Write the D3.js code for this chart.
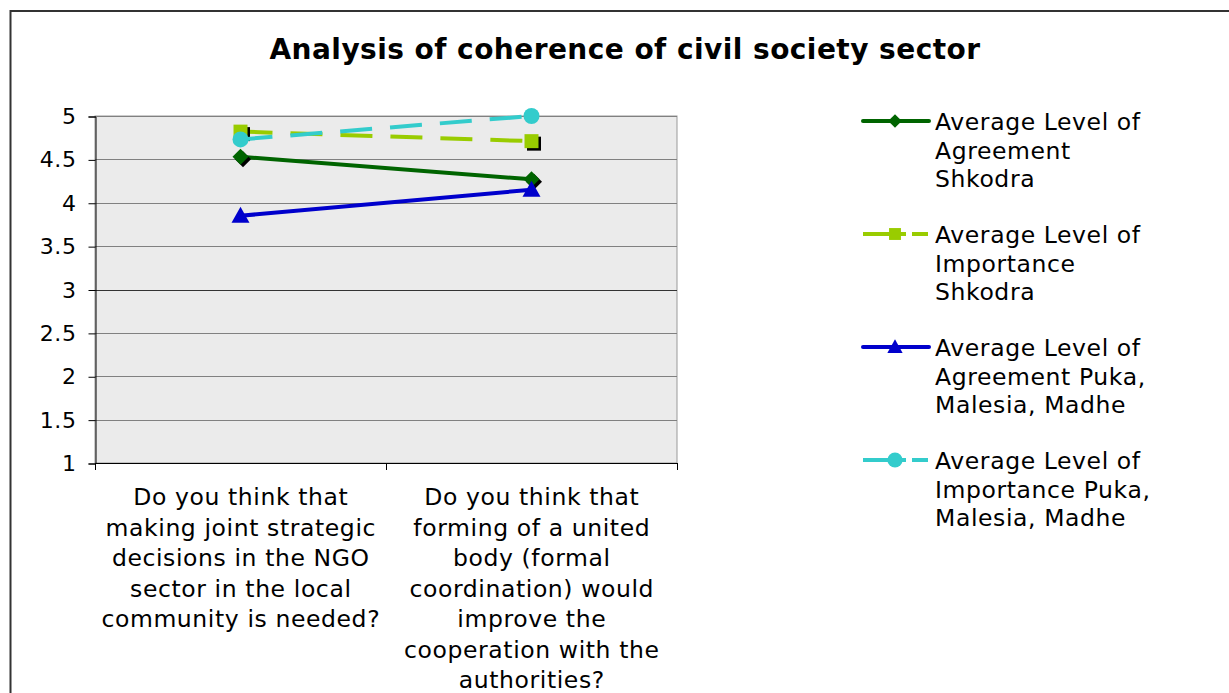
<!DOCTYPE html>
<html><head><meta charset="utf-8">
<script src="https://cdn.jsdelivr.net/npm/d3@7"></script>
<style>body{margin:0;background:#fff}svg{display:block;font-family:"DejaVu Sans",Verdana,sans-serif}</style>
</head><body>
<svg id="c" width="1229" height="693"></svg>
<script>
const categories = [
  ["Do you think that","making joint strategic","decisions in the NGO","sector in the local","community is needed?"],
  ["Do you think that","forming of a united","body (formal","coordination) would","improve the","cooperation with the","authorities?"]
];
const seriesNames = [
  ["Average Level of","Agreement","Shkodra"],
  ["Average Level of","Importance","Shkodra"],
  ["Average Level of","Agreement Puka,","Malesia, Madhe"],
  ["Average Level of","Importance Puka,","Malesia, Madhe"]
];
const agreementShkodra = [4.53, 4.27];
const importanceShkodra = [4.82, 4.71];
const agreementPuka = [3.85, 4.15];
const importancePuka = [4.73, 5.0];
const yTicks = [1, 1.5, 2, 2.5, 3, 3.5, 4, 4.5, 5];
const title = "Analysis of coherence of civil society sector";

const series = [
  {values: agreementShkodra, color: "#006400", dash: null, marker: "diamond", shadow: true},
  {values: importanceShkodra, color: "#99cc00", dash: "32,18", marker: "square", shadow: true},
  {values: agreementPuka, color: "#0000cc", dash: null, marker: "triangle", shadow: false},
  {values: importancePuka, color: "#33cccc", dash: "32,18", marker: "circle", shadow: false}
];

const FS = 23.5, LS = 0.6;
const svg = d3.select("#c");
// outer frame
svg.append("rect").attr("x",10.5).attr("y",11).attr("width",1300).attr("height",800)
  .attr("fill","#fff").attr("stroke","#333").attr("stroke-width",2);

svg.append("text").attr("x",625).attr("y",59).attr("text-anchor","middle")
  .attr("font-size",28).attr("font-weight","bold").attr("letter-spacing",0.45).attr("fill","#000").text(title);

const L = 95, R = 677, T = 116, B = 463;
const x = d3.scaleBand().domain(d3.range(categories.length)).range([L, R]);
const y = d3.scaleLinear().domain([1, 5]).range([B, T]);

svg.append("rect").attr("x",L).attr("y",T).attr("width",R-L).attr("height",B-T)
  .attr("fill","#ebebeb").attr("stroke","#999").attr("stroke-width",1);

// gridlines
svg.append("g").selectAll("line").data(yTicks).join("line")
  .attr("x1",L).attr("x2",R).attr("y1",d=>Math.round(y(d))+0.5).attr("y2",d=>Math.round(y(d))+0.5)
  .attr("stroke",d=>d===3?"#333":"#808080").attr("stroke-width",1);

// y axis
const yAxis = d3.axisLeft(y).tickValues(yTicks).tickSize(7).tickPadding(12).tickFormat(d3.format("~g"));
const gy = svg.append("g").attr("transform",`translate(${L+0.5},0.5)`).call(yAxis);
gy.select(".domain").attr("stroke","#000");
gy.selectAll("text").attr("font-size",22).attr("fill","#000").attr("font-family","DejaVu Sans").attr("letter-spacing",LS);

// x axis
const xAxisLine = svg.append("g");
xAxisLine.append("line").attr("x1",L).attr("x2",R).attr("y1",B+0.5).attr("y2",B+0.5).attr("stroke","#000");
xAxisLine.selectAll("line.t").data([L, ...categories.map((c,i)=>x(i)+x.bandwidth())]).join("line")
  .attr("class","t").attr("x1",d=>d+0.5).attr("x2",d=>d+0.5).attr("y1",B).attr("y2",B+7).attr("stroke","#000");
categories.forEach((lines,i)=>{
  const t = svg.append("text").attr("text-anchor","middle").attr("font-size",FS).attr("fill","#000").attr("letter-spacing",LS);
  lines.forEach((ln,j)=>t.append("tspan").attr("x",x(i)+x.bandwidth()/2+LS/2).attr("y",505+j*30.5).text(ln));
});

function drawMarker(g, type, cx, cy, color, shadow, scale){
  const s = scale||1;
  const shapes = {
    diamond: `M0,${-8*s}L${8*s},0L0,${8*s}L${-8*s},0Z`,
    square: `M${-7*s},${-7*s}h${14*s}v${14*s}h${-14*s}Z`,
    triangle: `M0,${-9*s}L${9*s},${7*s}L${-9*s},${7*s}Z`
  };
  if(type==="circle"){
    g.append("circle").attr("cx",cx).attr("cy",cy).attr("r",8*s).attr("fill",color);
    return;
  }
  if(shadow) g.append("path").attr("d",shapes[type]).attr("transform",`translate(${cx+2.5},${cy+2.5})`).attr("fill","#000");
  g.append("path").attr("d",shapes[type]).attr("transform",`translate(${cx},${cy})`).attr("fill",color);
}

const line = d3.line().x((d,i)=>x(i)+x.bandwidth()/2).y(d=>y(d));
series.forEach(s=>{
  const g = svg.append("g");
  g.append("path").datum(s.values).attr("d",line).attr("fill","none").attr("stroke",s.color)
    .attr("stroke-width",4).attr("stroke-dasharray",s.dash);
  s.values.forEach((v,i)=>drawMarker(g, s.marker, x(i)+x.bandwidth()/2, y(v), s.color, s.shadow));
});

// legend
series.forEach((s,i)=>{
  const ly = 121 + i*113;
  const g = svg.append("g");
  if(s.dash){
    g.append("line").attr("x1",863).attr("x2",906).attr("y1",ly).attr("y2",ly).attr("stroke",s.color).attr("stroke-width",4);
    g.append("line").attr("x1",912).attr("x2",928).attr("y1",ly).attr("y2",ly).attr("stroke",s.color).attr("stroke-width",4);
  } else {
    g.append("line").attr("x1",863).attr("x2",929).attr("y1",ly).attr("y2",ly).attr("stroke",s.color).attr("stroke-width",4).attr("stroke-linecap","round");
  }
  drawMarker(g, s.marker, 895, ly, s.color, false, s.marker==="circle"?0.95:0.85);
  const t = g.append("text").attr("font-size",FS).attr("fill","#000").attr("letter-spacing",LS);
  seriesNames[i].forEach((ln,j)=>t.append("tspan").attr("x",935).attr("y",ly+9+j*28.7).text(ln));
});
</script>
</body></html>
